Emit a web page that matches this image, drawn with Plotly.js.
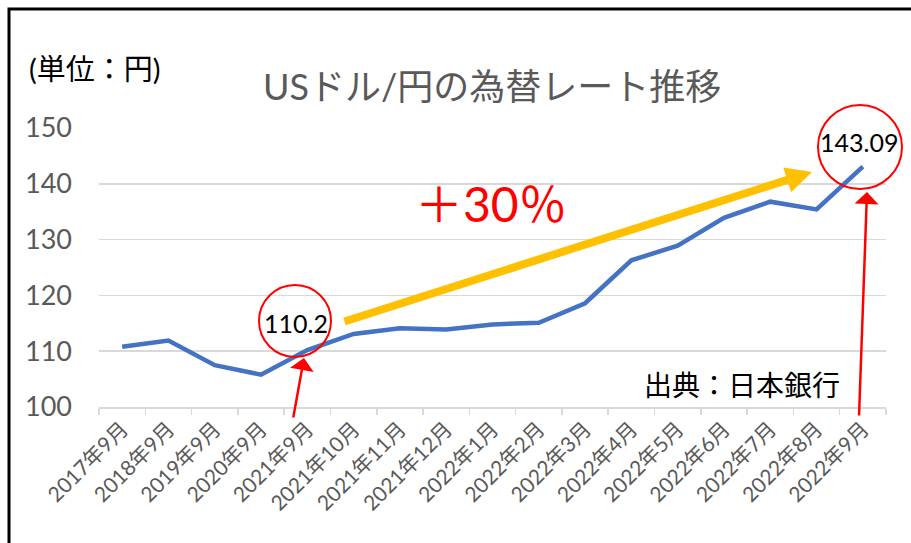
<!DOCTYPE html>
<html>
<head>
<meta charset="utf-8">
<script src="https://cdn.plot.ly/plotly-3.0.1.min.js"></script>
<style>
  body { margin: 0; background: #fff; }
  #chart { width: 911px; height: 543px; }
</style>
</head>
<body>
<div id="chart"></div>
<script>
// 月ごとの為替レート (円/USドル)
const months = [
  "2017年9月", "2018年9月", "2019年9月", "2020年9月", "2021年9月",
  "2021年10月", "2021年11月", "2021年12月", "2022年1月", "2022年2月",
  "2022年3月", "2022年4月", "2022年5月", "2022年6月", "2022年7月",
  "2022年8月", "2022年9月"
];
const rates = [
  110.8, 111.9, 107.5, 105.8, 110.2,
  113.1, 114.1, 113.9, 114.8, 115.1,
  118.6, 126.3, 128.9, 133.9, 136.8,
  135.4, 143.09
];
const yTicks = [100, 110, 120, 130, 140, 150];

const margin = { l: 99, r: 25, t: 128, b: 136 };
const W = 911, H = 543;
const plotW = W - margin.l - margin.r;
const plotH = H - margin.t - margin.b;
// pixel -> paper
function px(x) { return (x - margin.l) / plotW; }
function py(y) { return (H - margin.b - y) / plotH; }

const jp = "Lato, 'Noto Sans CJK JP', sans-serif";
const grey = "#595959";

const trace = {
  x: months,
  y: rates,
  type: "scatter",
  mode: "lines",
  line: { color: "#4472C4", width: 4.5 },
  hoverinfo: "x+y"
};

function arrow(x0, y0, x1, y1, color, width, size, head) {
  return {
    xref: "paper", yref: "paper",
    x: px(x1), y: py(y1),
    ax: x0 - x1, ay: y0 - y1,
    text: "", showarrow: true,
    arrowcolor: color, arrowwidth: width,
    arrowsize: size, arrowhead: head, standoff: 0
  };
}

function label(x, y, text, size, color) {
  return {
    xref: "paper", yref: "paper",
    x: px(x), y: py(y),
    xanchor: "center", yanchor: "middle",
    text: text, showarrow: false,
    font: { family: jp, size: size, color: color }
  };
}

function circle(cx, cy, r) {
  return {
    type: "circle",
    xref: "paper", yref: "paper",
    xsizemode: "pixel", ysizemode: "pixel",
    xanchor: px(cx), yanchor: py(cy),
    x0: -r, x1: r, y0: -r, y1: r,
    line: { color: "#FF0000", width: 2 }
  };
}

const layout = {
  width: W,
  height: H,
  margin: margin,
  paper_bgcolor: "#fff",
  plot_bgcolor: "#fff",
  showlegend: false,
  xaxis: {
    type: "category",
    range: [-0.5, months.length - 0.5],
    tickson: "boundaries",
    ticks: "outside",
    ticklen: 6,
    tickcolor: "#d9d9d9",
    tickwidth: 1.5,
    showgrid: false,
    showline: true,
    linecolor: "#d9d9d9",
    linewidth: 1.5,
    tickangle: -45,
    tickfont: { family: jp, size: 21, color: grey },
    fixedrange: true
  },
  yaxis: {
    range: [100, 150],
    tickvals: yTicks,
    showgrid: true,
    gridcolor: "#d9d9d9",
    gridwidth: 1.5,
    zeroline: false,
    showline: false,
    ticks: "",
    ticklabelstandoff: 26,
    tickfont: { family: jp, size: 27, color: grey },
    fixedrange: true
  },
  shapes: [
    {
      type: "rect", xref: "paper", yref: "paper",
      x0: px(9), x1: px(960), y0: py(9), y1: py(600),
      line: { color: "#000", width: 3 }
    },
    circle(295, 321, 36),
    circle(860, 147, 42)
  ],
  annotations: [
    label(492, 86, "USドル/円の為替レート推移", 36, grey),
    label(95, 68, "(単位：円)", 29, "#000"),
    label(491, 203, "＋30％", 48, "#FF0000"),
    label(742, 385, "出典：日本銀行", 28, "#000"),
    label(296, 323, "110.2", 25, "#000"),
    label(859, 142, "143.09", 25, "#000"),
    arrow(343, 322, 812, 172, "#FFC000", 8, 0.65, 2),
    arrow(293, 419, 304, 358, "#FF0000", 2.5, 1.6, 1),
    arrow(859, 417, 867, 192, "#FF0000", 2.5, 1.6, 1)
  ]
};

Plotly.newPlot("chart", [trace], layout, { displayModeBar: false, staticPlot: true });
</script>
</body>
</html>
